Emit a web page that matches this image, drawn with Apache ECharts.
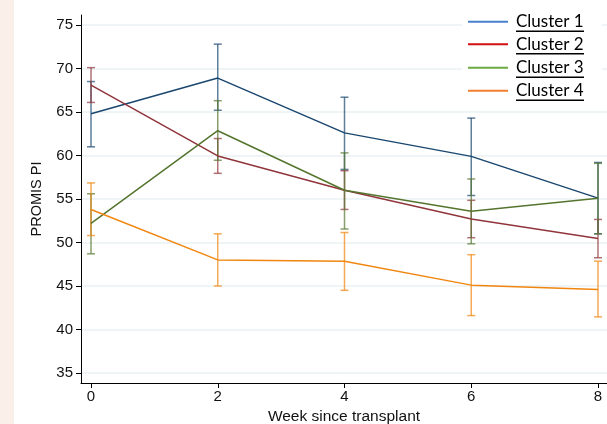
<!DOCTYPE html>
<html>
<head>
<meta charset="utf-8">
<script src="https://cdn.jsdelivr.net/npm/echarts@6/dist/echarts.min.js"></script>
<style>
html,body{margin:0;padding:0;background:#fff;}
#band{position:absolute;left:0;top:0;width:14px;height:424px;background:#faefe9;}
#c{position:absolute;left:0;top:0;width:607px;height:424px;}
</style>
</head>
<body>
<div id="band"></div>
<div id="c"></div>
<script>
var weeks = [0, 2, 4, 6, 8];
var seriesNames = ['Cluster 1', 'Cluster 2', 'Cluster 3', 'Cluster 4'];
var c1Mean = [64.8, 68.9, 62.6, 59.9, 55.1];
var c1Low  = [61.0, 65.2, 58.4, 55.4, 51.0];
var c1High = [68.5, 72.8, 66.7, 64.3, 59.2];
var c2Mean = [68.1, 59.95, 56.0, 52.7, 50.45];
var c2Low  = [66.1, 57.95, 53.8, 50.55, 48.25];
var c2High = [70.1, 61.95, 58.25, 54.85, 52.65];
var c3Mean = [52.2, 62.85, 56.0, 53.6, 55.1];
var c3Low  = [48.7, 59.45, 51.55, 49.85, 51.0];
var c3High = [55.6, 66.3, 60.3, 57.3, 59.1];
var c4Mean = [53.8, 48.0, 47.85, 45.1, 44.6];
var c4Low  = [50.8, 45.0, 44.5, 41.6, 41.45];
var c4High = [56.85, 51.0, 51.15, 48.6, 47.85];
var yTicks = [35, 40, 45, 50, 55, 60, 65, 70, 75];
var xTicks = [0, 2, 4, 6, 8];

var lineColors = ['#1a476f', '#90353b', '#55752f', '#f0860f'];
var legendColors = ['#4a7fcc', '#d01010', '#6aaa40', '#f08030'];
var means = [c1Mean, c2Mean, c3Mean, c4Mean];
var lows = [c1Low, c2Low, c3Low, c4Low];
var highs = [c1High, c2High, c3High, c4High];

var chart = echarts.init(document.getElementById('c'));
var series = [];
for (var i = 0; i < 4; i++) {
  (function (k) {
    var data = weeks.map(function (w, j) { return [w, lows[k][j], highs[k][j]]; });
    series.push({
      type: 'custom',
      name: seriesNames[k] + ' CI',
      data: data,
      z: 2,
      silent: true,
      renderItem: function (params, api) {
        var x = api.value(0);
        var lo = api.coord([x, api.value(1)]);
        var hi = api.coord([x, api.value(2)]);
        var hw = 4;
        var st = { stroke: lineColors[k], lineWidth: 1.5, opacity: 0.7 };
        return {
          type: 'group',
          children: [
            { type: 'line', shape: { x1: lo[0], y1: lo[1], x2: hi[0], y2: hi[1] }, style: st },
            { type: 'line', shape: { x1: lo[0] - hw, y1: lo[1], x2: lo[0] + hw, y2: lo[1] }, style: st },
            { type: 'line', shape: { x1: hi[0] - hw, y1: hi[1], x2: hi[0] + hw, y2: hi[1] }, style: st }
          ]
        };
      }
    });
    series.push({
      type: 'line',
      name: seriesNames[k],
      data: weeks.map(function (w, j) { return [w, means[k][j]]; }),
      showSymbol: false,
      z: 3,
      lineStyle: { color: lineColors[k], width: 1.5 },
      itemStyle: { color: lineColors[k] }
    });
  })(i);
}

var legendGraphics = [
  { type: 'rect', z: 100, shape: { x: 462, y: 4, width: 140, height: 102 }, style: { fill: '#ffffff' } }
];
for (var i = 0; i < 4; i++) {
  var y = [21.7, 44.3, 67.7, 90.7][i];
  legendGraphics.push({ type: 'line', z: 101, shape: { x1: 468, y1: y, x2: 508, y2: y }, style: { stroke: legendColors[i], lineWidth: 2 } });
  legendGraphics.push({ type: 'text', z: 101, x: 516, y: y, style: { text: seriesNames[i], font: '17px Lato', fill: '#000', textVerticalAlign: 'middle' } });
  legendGraphics.push({ type: 'line', z: 101, shape: { x1: 516, y1: y + 9.5, x2: 584, y2: y + 9.5 }, style: { stroke: '#000', lineWidth: 1.6 } });
}

chart.setOption({
  animation: false,
  grid: { left: 81, top: 15, right: 0, bottom: 41, containLabel: false, outerBoundsMode: 'none' },
  xAxis: {
    type: 'value', min: -0.158, max: 8.142,
    name: 'Week since transplant', nameLocation: 'middle', nameGap: 24,
    nameTextStyle: { fontFamily: 'Liberation Sans', fontSize: 15.5, color: '#111' },
    axisLine: { onZero: false, lineStyle: { color: '#000', width: 1 } },
    axisTick: { show: true, length: 5, customValues: xTicks, lineStyle: { color: '#000' } },
    axisLabel: { customValues: xTicks, fontFamily: 'Liberation Sans', fontSize: 15, color: '#111', margin: 6 },
    splitLine: { show: false }
  },
  yAxis: {
    type: 'value', min: 33.85, max: 76.15,
    name: 'PROMIS PI', nameLocation: 'middle', nameGap: 37,
    nameTextStyle: { fontFamily: 'Liberation Sans', fontSize: 14.5, color: '#111' },
    axisLine: { show: true, onZero: false, lineStyle: { color: '#000', width: 1 } },
    axisTick: { show: true, length: 5, customValues: yTicks, lineStyle: { color: '#000' } },
    axisLabel: { customValues: yTicks, fontFamily: 'Liberation Sans', fontSize: 15, color: '#111', margin: 8 },
    splitLine: { show: true, lineStyle: { color: '#eaf2f3', width: 1.5 } }
  },
  series: series,
  graphic: legendGraphics
});
</script>
</body>
</html>
